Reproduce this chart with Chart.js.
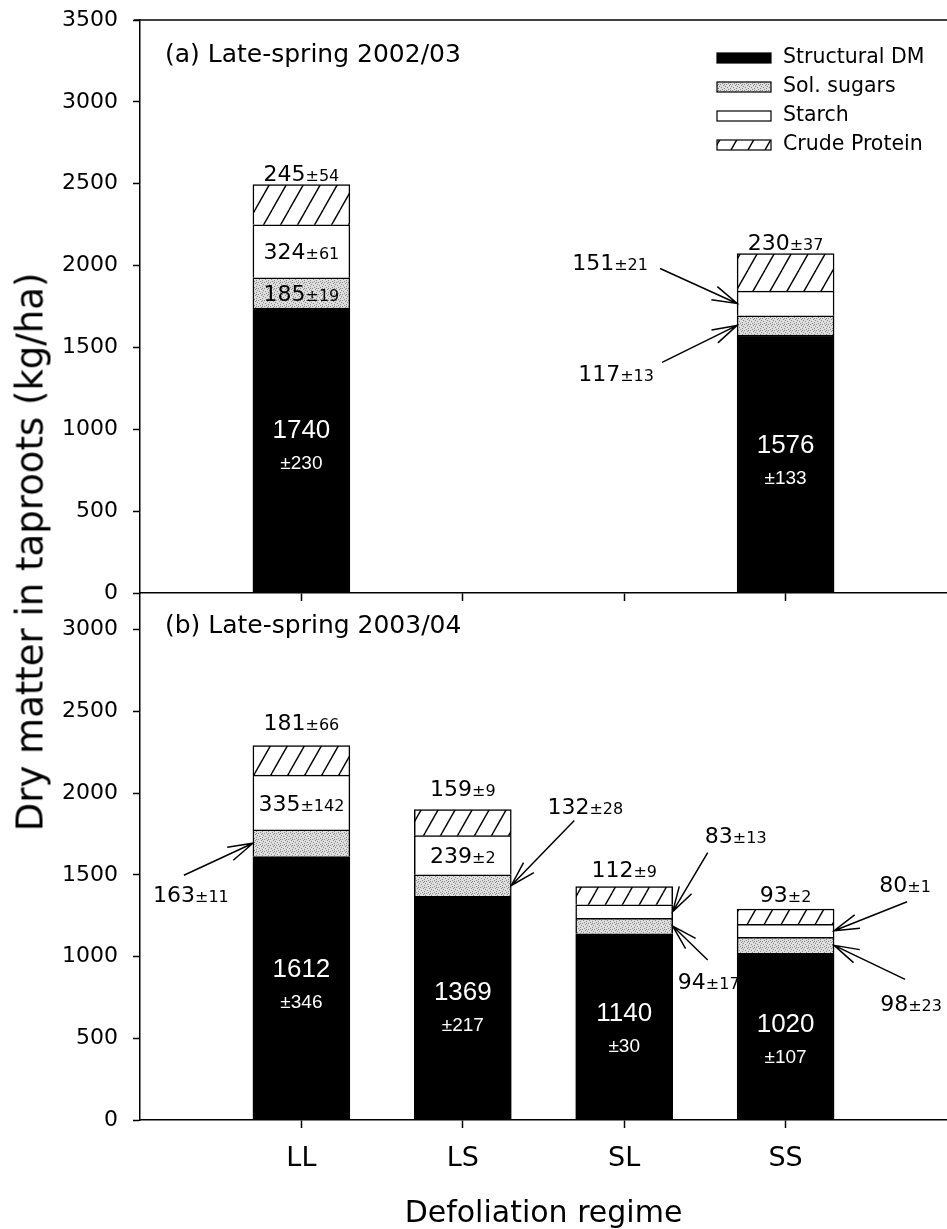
<!DOCTYPE html>
<html lang="en">
<head>
<meta charset="UTF-8">
<title>Dry matter in taproots</title>
<script src="https://cdn.jsdelivr.net/npm/chart.js"></script>
<style>
  body { margin: 0; background: #fff; }
  #wrap { position: relative; width: 947px; height: 1229px; overflow: hidden; }
  .panel { position: absolute; left: 0; width: 947px; }
  #panelA { top: 0; height: 607px; }
  #panelB { top: 593px; height: 636px; }
  #ytitle {
    position: absolute; left: 30px; top: 552px;
    transform: translate(-50%, -50%) rotate(-90deg);
    font: 37px 'DejaVu Sans', sans-serif; white-space: nowrap; color: #000;
  }
</style>
</head>
<body>
<div id="wrap">
  <div class="panel" id="panelA"><canvas id="chartA"></canvas></div>
  <div class="panel" id="panelB"><canvas id="chartB"></canvas></div>
  <div id="ytitle">Dry matter in taproots (kg/ha)</div>
</div>

<script>
// ---- data (kg/ha) ----
const categories = ['LL', 'LS', 'SL', 'SS'];
const seriesNames = ['Structural DM', 'Sol. sugars', 'Starch', 'Crude Protein'];

// (a) Late-spring 2002/03 - only LL and SS measured
const structA  = [1740, null, null, 1576];
const sugarsA  = [185, null, null, 117];
const starchA  = [324, null, null, 151];
const proteinA = [245, null, null, 230];
const structSeA  = [230, null, null, 133];
const sugarsSeA  = [19, null, null, 13];
const starchSeA  = [61, null, null, 21];
const proteinSeA = [54, null, null, 37];

// (b) Late-spring 2003/04
const structB  = [1612, 1369, 1140, 1020];
const sugarsB  = [163, 132, 94, 98];
const starchB  = [335, 239, 83, 80];
const proteinB = [181, 159, 112, 93];
const structSeB  = [346, 217, 30, 107];
const sugarsSeB  = [11, 28, 17, 23];
const starchSeB  = [142, 2, 13, 1];
const proteinSeB = [66, 9, 9, 2];

const yTicksA = [0, 500, 1000, 1500, 2000, 2500, 3000, 3500];
const yTicksB = [0, 500, 1000, 1500, 2000, 2500, 3000];

// label placement: [series, category, how, text offset, arrow tail offset]
const placeA = [
  [1, 0, 'in'], [2, 0, 'in'], [3, 0, 'top', [0, -12]],
  [1, 3, 'arrow', [-121, 48], [-75, 37]],
  [2, 3, 'arrow', [-127, -41], [-77, -35]],
  [3, 3, 'top', [0, -11]]
];
const placeB = [
  [1, 0, 'arrow', [-62, 51], [-69, 32]], [2, 0, 'in'], [3, 0, 'top', [0, -24]],
  [1, 1, 'arrow', [74, -80], [63, -65]], [2, 1, 'in'], [3, 1, 'top', [0, -22]],
  [1, 2, 'arrow', [36, 55], [35, 34]], [2, 2, 'arrow', [63, -77], [35, -59]], [3, 2, 'top', [0, -17]],
  [1, 3, 'arrow', [77, 58], [71, 34]], [2, 3, 'arrow', [71, -47], [73, -29]], [3, 3, 'top', [0, -15]]
];

const FONT = "'DejaVu Sans', sans-serif";
const NUM_FONT = "'Liberation Sans', Arial, sans-serif";

function makeHatch() {
  const c = document.createElement('canvas');
  c.width = 17; c.height = 30;
  const g = c.getContext('2d');
  g.fillStyle = '#fff';
  g.fillRect(0, 0, 17, 30);
  g.strokeStyle = '#000';
  g.lineWidth = 1.4;
  for (const off of [-17, 0, 17]) {
    g.beginPath(); g.moveTo(off, 30); g.lineTo(off + 17, 0); g.stroke();
  }
  return g.createPattern(c, 'repeat');
}

function makeStipple() {
  const c = document.createElement('canvas');
  c.width = 6; c.height = 6;
  const g = c.getContext('2d');
  g.fillStyle = '#dedede';
  g.fillRect(0, 0, 6, 6);
  g.fillStyle = '#888';
  [[0, 0], [3, 1], [1, 3], [4, 4], [5, 2], [2, 5], [4, 0]].forEach(([x, y]) => g.fillRect(x, y, 1, 1));
  return g.createPattern(c, 'repeat');
}

const fills = ['#000', makeStipple(), '#fff', makeHatch()];

function points(arr) {
  return arr.map((v, i) => ({ x: i + 1, y: v })).filter(p => p.y !== null);
}

function datasets(values) {
  return values.map((arr, s) => ({
    label: seriesNames[s],
    data: points(arr),
    backgroundColor: fills[s],
    borderColor: '#000',
    borderWidth: 1.5,
    barThickness: 97
  }));
}

function elementFor(chart, s, c) {
  const idx = chart.data.datasets[s].data.findIndex(p => p.x === c + 1);
  return idx < 0 ? null : chart.getDatasetMeta(s).data[idx];
}

function drawValue(ctx, x, y, main, se, color) {
  ctx.font = '22px ' + FONT;
  const w1 = ctx.measureText(main).width;
  ctx.font = '16px ' + FONT;
  const w2 = ctx.measureText(se).width;
  const x0 = x - (w1 + w2) / 2, base = y + 8;
  ctx.textAlign = 'left';
  ctx.textBaseline = 'alphabetic';
  ctx.fillStyle = color;
  ctx.font = '22px ' + FONT;
  ctx.fillText(main, x0, base);
  ctx.font = '16px ' + FONT;
  ctx.fillText(se, x0 + w1, base);
}

function arrow(ctx, x0, y0, x1, y1) {
  const a = Math.atan2(y1 - y0, x1 - x0), L = 26, w = 0.28;
  ctx.beginPath();
  ctx.moveTo(x0, y0); ctx.lineTo(x1, y1);
  ctx.moveTo(x1 - L * Math.cos(a - w), y1 - L * Math.sin(a - w));
  ctx.lineTo(x1, y1);
  ctx.lineTo(x1 - L * Math.cos(a + w), y1 - L * Math.sin(a + w));
  ctx.stroke();
}

function annotate(panel) {
  return {
    id: 'annotate',
    afterDatasetsDraw(chart) {
      const ctx = chart.ctx, area = chart.chartArea, yScale = chart.scales.y;
      ctx.save();
      ctx.strokeStyle = '#000';
      ctx.lineWidth = 1.5;

      if (panel.frameTop) {
        ctx.beginPath();
        ctx.moveTo(area.left - 6, area.top); ctx.lineTo(area.right, area.top);
        ctx.stroke();
      }

      ctx.fillStyle = '#000';
      ctx.font = '25px ' + FONT;
      ctx.textAlign = 'left';
      ctx.textBaseline = 'middle';
      ctx.fillText(panel.title, area.left + 25, area.top + panel.titleDy);

      // structural DM inside the black bars
      panel.values[0].forEach((v, c) => {
        const el = elementFor(chart, 0, c);
        if (!el) return;
        const y = yScale.getPixelForValue(v * 0.57);
        ctx.fillStyle = '#fff';
        ctx.textAlign = 'center';
        ctx.textBaseline = 'middle';
        ctx.font = '26px ' + NUM_FONT;
        ctx.fillText(String(v), el.x, y);
        ctx.font = '19px ' + NUM_FONT;
        ctx.fillText('\u00b1' + panel.errors[0][c], el.x, y + 33);
      });

      panel.place.forEach(([s, c, how, txt, tail]) => {
        const el = elementFor(chart, s, c);
        if (!el) return;
        const main = String(panel.values[s][c]), se = '\u00b1' + panel.errors[s][c];
        if (how === 'in') {
          drawValue(ctx, el.x, (el.y + el.base) / 2, main, se, '#000');
        } else if (how === 'top') {
          drawValue(ctx, el.x + txt[0], el.y + txt[1], main, se, '#000');
        } else {
          const tipX = txt[0] < 0 ? el.x - el.width / 2 : el.x + el.width / 2;
          const tipY = (el.y + el.base) / 2;
          arrow(ctx, tipX + tail[0], tipY + tail[1], tipX, tipY);
          drawValue(ctx, tipX + txt[0], tipY + txt[1], main, se, '#000');
        }
      });

      if (panel.legend) {
        seriesNames.forEach((name, s) => {
          const y = 58 + s * 29;
          ctx.fillStyle = fills[s];
          ctx.fillRect(717, y - 5, 54, 10);
          ctx.lineWidth = 1.2;
          ctx.strokeRect(717, y - 5, 54, 10);
          ctx.fillStyle = '#000';
          ctx.font = '20.5px ' + FONT;
          ctx.textAlign = 'left';
          ctx.textBaseline = 'middle';
          ctx.fillText(name, 783, y);
        });
      }
      ctx.restore();
    }
  };
}

function options(yMax, yTicks, showX) {
  return {
    responsive: true,
    maintainAspectRatio: false,
    animation: false,
    layout: { padding: { top: showX ? 0 : 20, left: 0, right: 0, bottom: 0 } },
    plugins: { legend: { display: false }, tooltip: { enabled: false } },
    scales: {
      x: {
        type: 'linear', min: 0, max: 5, stacked: true, offset: false,
        afterFit: s => {
          s.height = showX ? 109 : 14;
          s.paddingLeft = 0; s.paddingRight = 0;
        },
        afterBuildTicks: s => { s.ticks = categories.map((c, i) => ({ value: i + 1 })); },
        ticks: {
          display: showX, color: '#000', padding: 15, autoSkip: false, maxRotation: 0,
          font: { family: FONT, size: 27 },
          callback: v => categories[v - 1]
        },
        grid: { offset: false, drawOnChartArea: false, tickLength: 8, tickColor: '#000', tickWidth: 1.5 },
        border: { color: '#000', width: 1.5 },
        title: {
          display: showX, text: 'Defoliation regime', color: '#000', padding: 0,
          font: { family: FONT, size: 30, lineHeight: 1 }
        }
      },
      y: {
        min: 0, max: yMax, stacked: true,
        afterFit: s => {
          s.width = 140;
          s.paddingTop = 0; s.paddingBottom = 0;
        },
        afterBuildTicks: s => { s.ticks = yTicks.map(v => ({ value: v })); },
        ticks: {
          color: '#000', padding: 15, font: { family: FONT, size: 22 },
          callback: v => String(v)
        },
        grid: { drawOnChartArea: false, tickLength: 7, tickColor: '#000', tickWidth: 1.5 },
        border: { color: '#000', width: 1.5 }
      }
    }
  };
}

const panelA = {
  title: '(a) Late-spring 2002/03', titleDy: 35, frameTop: true, legend: true,
  values: [structA, sugarsA, starchA, proteinA],
  errors: [structSeA, sugarsSeA, starchSeA, proteinSeA],
  place: placeA
};
const panelB = {
  title: '(b) Late-spring 2003/04', titleDy: 33, frameTop: false, legend: false,
  values: [structB, sugarsB, starchB, proteinB],
  errors: [structSeB, sugarsSeB, starchSeB, proteinSeB],
  place: placeB
};

new Chart(document.getElementById('chartA'), {
  type: 'bar',
  data: { datasets: datasets(panelA.values) },
  options: options(3500, yTicksA, false),
  plugins: [annotate(panelA)]
});

new Chart(document.getElementById('chartB'), {
  type: 'bar',
  data: { datasets: datasets(panelB.values) },
  options: options(3225, yTicksB, true),
  plugins: [annotate(panelB)]
});
</script>
</body>
</html>
